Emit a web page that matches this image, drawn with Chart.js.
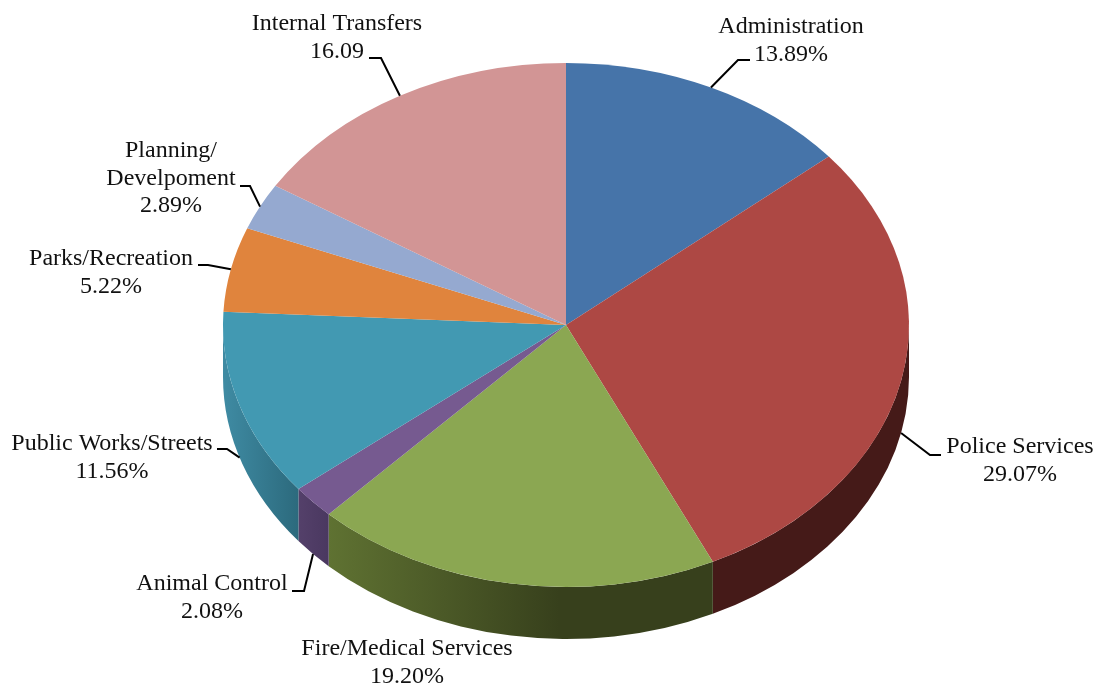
<!DOCTYPE html>
<html>
<head>
<meta charset="utf-8">
<style>
    html, body { margin: 0; padding: 0; background: #fff; }
    canvas { display: block; }
</style>
<script src="https://cdn.jsdelivr.net/npm/chart.js@4"></script>
</head>
<body>
<canvas id="budgetChart" width="1100" height="685"></canvas>
<script>
const categories = ['Administration', 'Police Services', 'Fire/Medical Services', 'Animal Control',
    'Public Works/Streets', 'Parks/Recreation', ['Planning/', 'Develpoment'], 'Internal Transfers'];
const shares = [13.89, 29.07, 19.20, 2.08, 11.56, 5.22, 2.89, 16.09];
const shareLabels = ['13.89%', '29.07%', '19.20%', '2.08%', '11.56%', '5.22%', '2.89%', '16.09'];
const topColors = ['#4674a9', '#ad4844', '#8ba752', '#765a90', '#4299b2', '#e0843d', '#95a9d0', '#d29595'];
// gradient stops of the side wall, left to right
const wallColors = [
    null,
    ['#451a18', '#451a18'],
    ['#5f7232', '#37401c'],
    ['#54406a', '#4a3860'],
    ['#3f8ba3', '#2c6a7d'],
    null, null, null
];

const SQUASH = 262 / 343;
const DEPTH = 52;

// where the text sits and how the leader bends
const labelLayout = [
    { x: 791, y: 27, elbow: [738, 60], end: [750, 60], wall: false },
    { x: 1020, y: 447, elbow: [930, 455], end: [941, 455], wall: true },
    { x: 407, y: 649 },
    { x: 212, y: 584, elbow: [304, 591], end: [292, 591], wall: true },
    { x: 112, y: 444, elbow: [227, 449], end: [217, 449], wall: true },
    { x: 111, y: 259, elbow: [208, 265], end: [198, 265], wall: false },
    { x: 171, y: 151, elbow: [250, 186], end: [240, 186], wall: false },
    { x: 337, y: 24, elbow: [381, 58], end: [369, 58], wall: false }
];

// squashes the round pie into the tilted ellipse
const tiltPlugin = {
    id: 'tilt',
    beforeDatasetDraw(chart, args) {
        const ctx = chart.ctx;
        const cy = args.meta.data[0].y;
        ctx.save();
        ctx.translate(0, cy);
        ctx.scale(1, SQUASH);
        ctx.translate(0, -cy);
    },
    afterDatasetDraw(chart) {
        chart.ctx.restore();
    }
};

// side walls, taken from the arc angles of the lower half
const wallPlugin = {
    id: 'walls',
    beforeDatasetsDraw(chart) {
        const ctx = chart.ctx;
        chart.getDatasetMeta(0).data.forEach((arc, i) => {
            const from = Math.max(arc.startAngle, 0);
            const to = Math.min(arc.endAngle, Math.PI);
            if (to <= from || !wallColors[i]) return;
            const rx = arc.outerRadius;
            const ry = rx * SQUASH;
            const x0 = arc.x + rx * Math.cos(to);
            const x1 = arc.x + rx * Math.cos(from);
            const grad = ctx.createLinearGradient(x0, 0, x1, 0);
            grad.addColorStop(0, wallColors[i][0]);
            grad.addColorStop(i === 2 ? 0.6 : 1, wallColors[i][1]);
            if (i === 2) grad.addColorStop(1, wallColors[i][1]);
            ctx.beginPath();
            ctx.ellipse(arc.x, arc.y, rx, ry, 0, from, to);
            ctx.ellipse(arc.x, arc.y + DEPTH, rx, ry, 0, to, from, true);
            ctx.closePath();
            ctx.fillStyle = grad;
            ctx.fill();
        });
    }
};

const labelPlugin = {
    id: 'sliceLabels',
    afterDatasetsDraw(chart) {
        const ctx = chart.ctx;
        ctx.save();
        ctx.font = '24px "Liberation Serif"';
        ctx.textAlign = 'center';
        ctx.textBaseline = 'middle';
        chart.getDatasetMeta(0).data.forEach((arc, i) => {
            const spot = labelLayout[i];
            const lines = [].concat(chart.data.labels[i], shareLabels[i]);
            ctx.fillStyle = '#111';
            lines.forEach((line, n) => ctx.fillText(line, spot.x, spot.y + n * 27.3));
            if (!spot.elbow) return;
            const mid = (arc.startAngle + arc.endAngle) / 2;
            ctx.beginPath();
            ctx.moveTo(arc.x + arc.outerRadius * Math.cos(mid),
                arc.y + arc.outerRadius * SQUASH * Math.sin(mid) + (spot.wall ? DEPTH : 0));
            ctx.lineTo(spot.elbow[0], spot.elbow[1]);
            ctx.lineTo(spot.end[0], spot.end[1]);
            ctx.strokeStyle = '#000';
            ctx.lineWidth = 2;
            ctx.stroke();
        });
        ctx.restore();
    }
};

new Chart(document.getElementById('budgetChart').getContext('2d'), {
    type: 'pie',
    data: {
        labels: categories,
        datasets: [{
            data: shares,
            backgroundColor: topColors,
            borderWidth: 0,
            clip: false
        }]
    },
    options: {
        responsive: false,
        animation: false,
        radius: 343,
        layout: { padding: { left: 32, bottom: 35 } },
        plugins: {
            legend: { display: false },
            tooltip: { enabled: false }
        }
    },
    plugins: [wallPlugin, tiltPlugin, labelPlugin]
});
</script>
</body>
</html>
